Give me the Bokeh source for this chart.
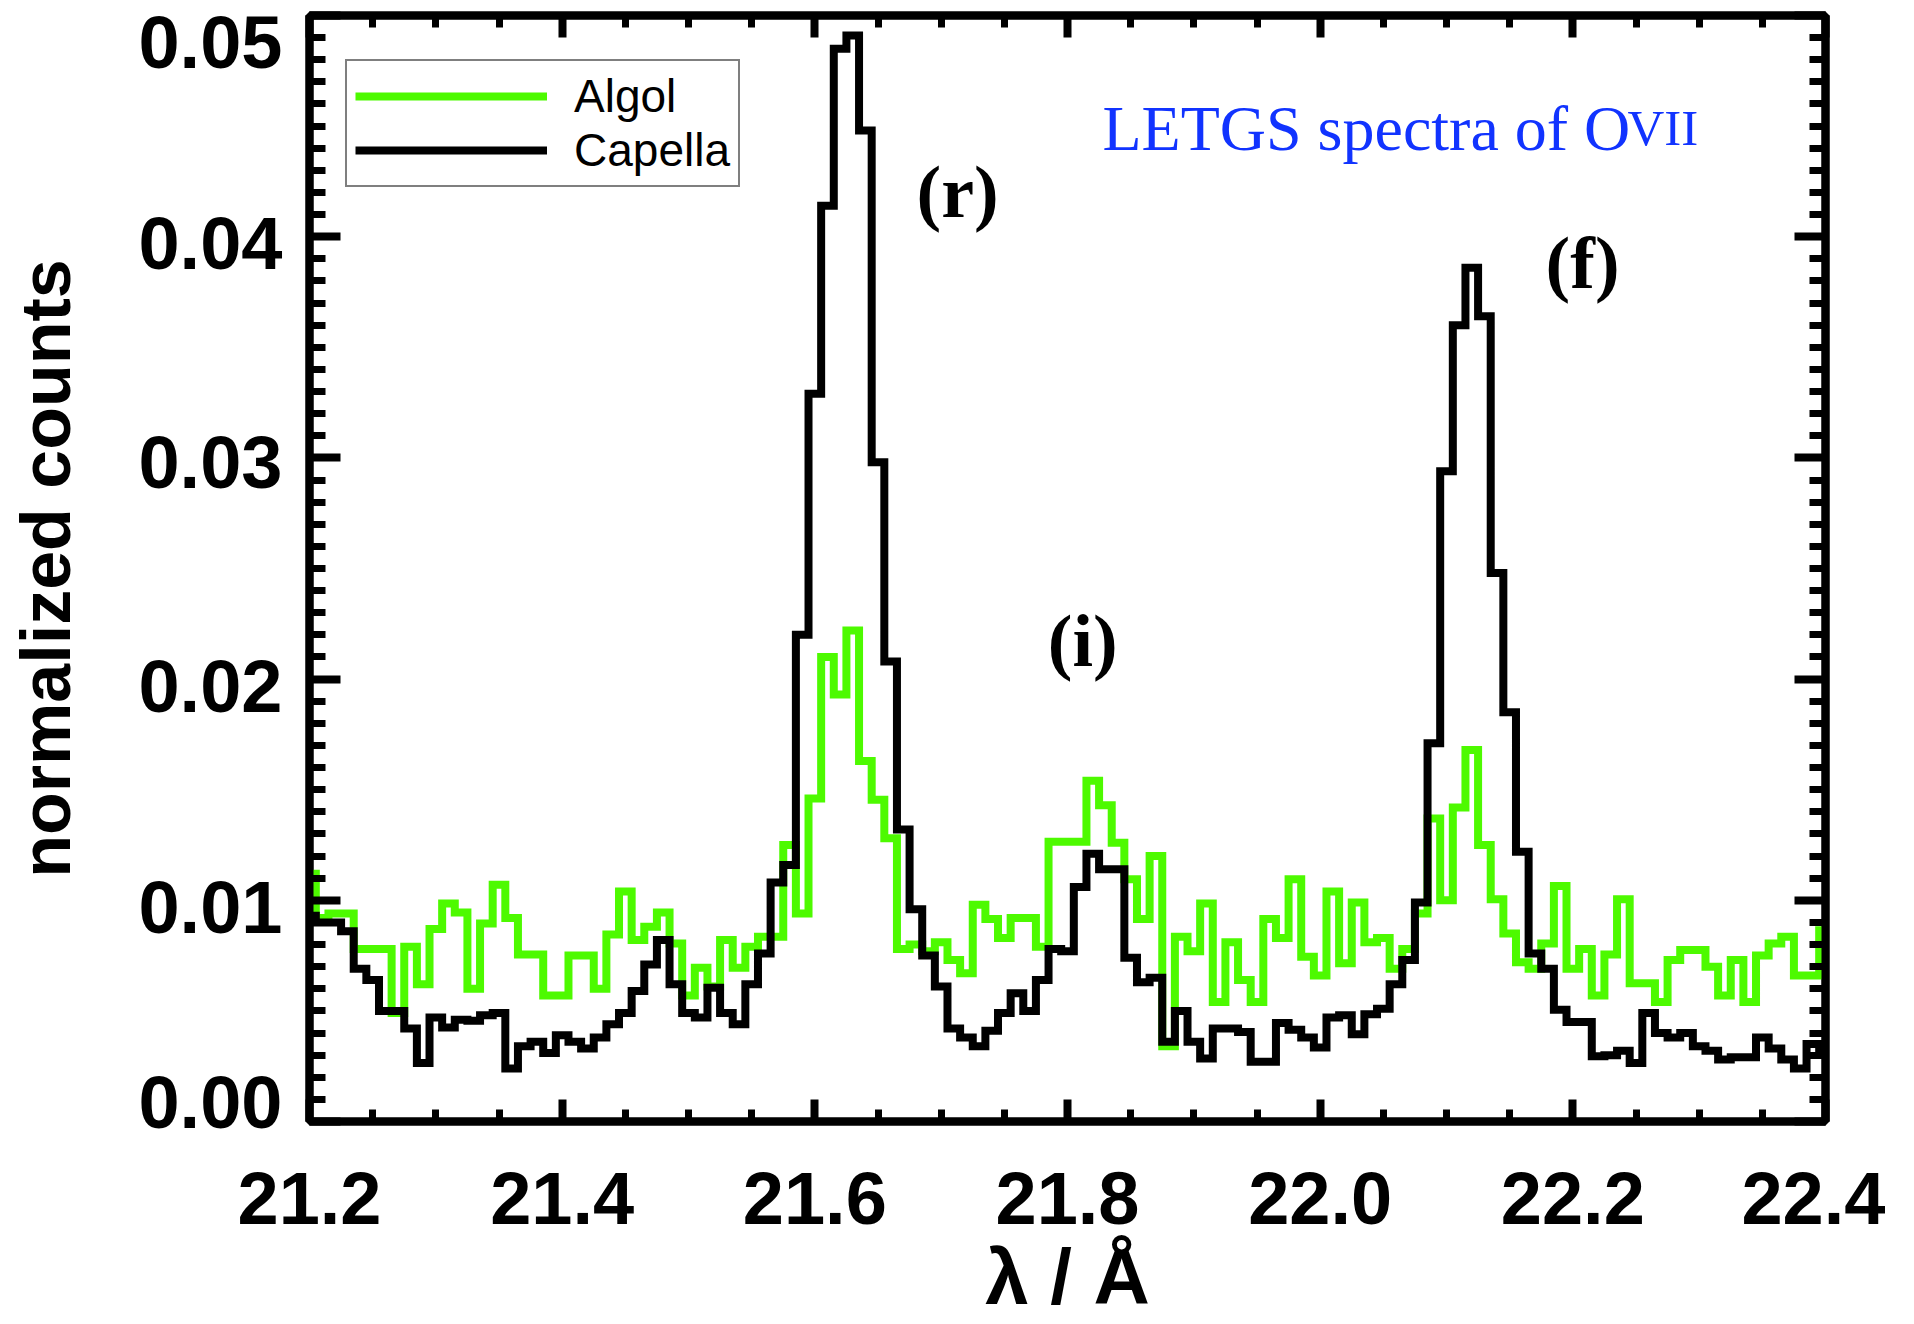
from bokeh.plotting import figure
from bokeh.models import (Range1d, LinearAxis, FixedTicker, Legend, LegendItem, Label)
from bokeh.embed import file_html
from bokeh.resources import INLINE

# ---------------- data (normalized counts) ----------------
# wavelength bins: 21.20 ... 22.40 Angstrom, 0.01 A apart
wavelength = [round(21.20 + 0.01 * i, 2) for i in range(121)]

# Algol (green), in units of 1e-3 normalized counts
algol_milli = [
    11.2, 9.2, 9.4, 9.4, 7.8, 7.8, 7.8, 4.9, 7.9, 6.2,
    8.7, 9.85, 9.45, 6.0, 8.95, 10.7, 9.2, 7.55, 7.55, 5.7,
    5.7, 7.5, 7.5, 6.0, 8.45, 10.4, 8.2, 8.8, 9.45, 8.05,
    5.7, 6.95, 6.1, 8.2, 6.95, 7.9, 8.35, 8.35, 12.5, 9.4,
    14.6, 21.0, 19.3, 22.2, 16.3, 14.55, 12.8, 7.8, 8.0, 7.7,
    8.1, 7.3, 6.7, 9.8, 9.15, 8.3, 9.2, 9.2, 7.9, 12.65,
    12.65, 12.65, 15.4, 14.3, 12.6, 10.95, 9.15, 12.0, 3.4, 8.35,
    7.7, 9.85, 5.4, 8.1, 6.4, 5.4, 9.15, 8.3, 10.95, 7.45,
    6.6, 10.4, 7.15, 9.9, 8.1, 8.3, 6.9, 7.8, 9.4, 13.7,
    10.0, 14.2, 16.8, 12.5, 10.05, 8.5, 7.2, 6.9, 8.05, 10.65,
    6.9, 7.8, 5.7, 7.55, 10.05, 6.25, 6.25, 5.4, 7.3, 7.75,
    7.75, 7.0, 5.7, 7.3, 5.4, 7.5, 8.05, 8.35, 6.6, 6.6,
    8.65,
]

# Capella (black), in units of 1e-3 normalized counts
capella_milli = [
    9.3, 9.0, 9.0, 8.6, 6.9, 6.4, 5.0, 5.0, 4.2, 2.65,
    4.7, 4.25, 4.6, 4.55, 4.8, 4.9, 2.4, 3.4, 3.6, 3.1,
    3.9, 3.6, 3.3, 3.8, 4.4, 4.9, 5.9, 7.1, 8.2, 6.2,
    4.9, 4.7, 6.05, 4.9, 4.4, 6.2, 7.6, 10.8, 11.6, 22.0,
    32.9, 41.4, 48.5, 49.1, 44.8, 29.8, 20.8, 13.2, 9.6, 7.5,
    6.1, 4.2, 3.8, 3.4, 4.1, 4.9, 5.8, 5.0, 6.4, 7.8,
    7.7, 10.6, 12.1, 11.4, 11.4, 7.4, 6.3, 6.5, 3.6, 5.0,
    3.6, 2.85, 4.2, 4.2, 4.05, 2.7, 2.7, 4.45, 4.15, 3.8,
    3.35, 4.7, 4.8, 3.95, 4.85, 5.1, 6.2, 7.3, 9.9, 17.1,
    29.4, 36.0, 38.6, 36.4, 24.8, 18.5, 12.2, 7.6, 6.9, 5.05,
    4.5, 4.5, 2.95, 3.0, 3.2, 2.65, 4.9, 4.0, 3.8, 4.0,
    3.4, 3.2, 2.8, 2.9, 2.9, 3.8, 3.3, 2.8, 2.4, 3.5,
    3.3,
]

algol = [v / 1000.0 for v in algol_milli]
capella = [v / 1000.0 for v in capella_milli]

series_names = ["Algol", "Capella"]

x_ticks = [21.2, 21.4, 21.6, 21.8, 22.0, 22.2, 22.4]
x_tick_labels = ["21.2", "21.4", "21.6", "21.8", "22.0", "22.2", "22.4"]
y_ticks = [0.0, 0.01, 0.02, 0.03, 0.04, 0.05]
y_tick_labels = ["0.00", "0.01", "0.02", "0.03", "0.04", "0.05"]

line_labels = ["(r)", "(i)", "(f)"]

# ---------------- styling ----------------
GREEN = "#4dfa00"
BLUE = "#1133ff"
SANS = "Liberation Sans"
SERIF = "Liberation Serif"

x_minor = [round(21.2 + 0.05 * i, 3) for i in range(25)]
y_minor = [round(0.001 * i, 4) for i in range(51)]
# the original shifts its y tick labels slightly off their ticks (ends pulled inward)
y_label_shift = [-0.0009, 0.0003, 0.0003, 0.0002, 0.0003, 0.0012]
y_label_pos = [round(t - s, 5) for t, s in zip(y_ticks, y_label_shift)]

p = figure(width=1885, height=1324,
           x_range=Range1d(21.2, 22.4), y_range=Range1d(0.0, 0.05),
           output_backend="svg", toolbar_location=None,
           min_border_left=309, min_border_right=60,
           min_border_top=15, min_border_bottom=203,
           background_fill_color="white", border_fill_color="white")
p.xgrid.visible = False
p.ygrid.visible = False
p.outline_line_color = "black"
p.outline_line_width = 8

xt = FixedTicker(ticks=x_ticks, minor_ticks=x_minor)
yt = FixedTicker(ticks=y_ticks, minor_ticks=y_minor)

top_axis = LinearAxis()
right_axis = LinearAxis()
p.add_layout(top_axis, "above")
p.add_layout(right_axis, "right")

bottom = p.below[0]
left = p.left[0]

for ax in (bottom, top_axis):
    ax.ticker = xt
    ax.major_tick_in = 22
    ax.minor_tick_in = 12
for ax in (left, right_axis):
    ax.ticker = yt
    ax.major_tick_in = 31
    ax.minor_tick_in = 16

for ax in (bottom, top_axis, left, right_axis):
    ax.major_tick_out = 0
    ax.minor_tick_out = 0
    ax.axis_line_width = 8
    ax.axis_line_color = "black"
    ax.major_tick_line_width = 8
    ax.minor_tick_line_width = 7
    ax.major_tick_line_color = "black"
    ax.minor_tick_line_color = "black"

# tick-only axes (labels not drawn)
for ax in (top_axis, right_axis, left):
    ax.major_label_text_color = None
    ax.major_label_text_font_size = "1px"
    ax.major_label_standoff = 0

bottom.major_label_overrides = dict(zip(x_ticks, x_tick_labels))
bottom.major_label_text_font = SANS
bottom.major_label_text_font_style = "bold"
bottom.major_label_text_font_size = "74px"
bottom.major_label_text_color = "black"
bottom.major_label_standoff = 50
bottom.axis_label = "λ / Å"
bottom.axis_label_text_font = SANS
bottom.axis_label_text_font_style = "bold"
bottom.axis_label_text_font_size = "78px"
bottom.axis_label_text_color = "black"
bottom.axis_label_standoff = 6

# y tick labels on their own (tick-less) axis
label_axis = LinearAxis(ticker=FixedTicker(ticks=y_label_pos, minor_ticks=[]),
                        major_label_overrides=dict(zip(y_label_pos, y_tick_labels)),
                        major_tick_in=0, major_tick_out=0,
                        minor_tick_in=0, minor_tick_out=0,
                        axis_line_color=None, major_tick_line_color=None,
                        minor_tick_line_color=None,
                        major_label_text_font=SANS, major_label_text_font_style="bold",
                        major_label_text_font_size="74px", major_label_text_color="black",
                        major_label_standoff=27,
                        axis_label="normalized counts", axis_label_text_font=SANS,
                        axis_label_text_font_style="bold", axis_label_text_font_size="70px",
                        axis_label_text_color="black", axis_label_standoff=50)
p.add_layout(label_axis, "left")

# ---------------- spectra ----------------
r_algol = p.step(wavelength, algol, mode="center", line_color=GREEN,
                 line_width=8, line_join="miter")
r_capella = p.step(wavelength, capella, mode="center", line_color="black",
                   line_width=8, line_join="miter")

legend = Legend(items=[LegendItem(label=series_names[0], renderers=[r_algol]),
                       LegendItem(label=series_names[1], renderers=[r_capella])],
                location=(36, 934), margin=0, padding=8, spacing=-16,
                glyph_width=192, glyph_height=36, label_height=36,
                label_standoff=27, label_text_font=SANS,
                label_text_font_size="46px", label_text_color="black",
                label_text_baseline="middle",
                border_line_color="black", border_line_width=2,
                background_fill_color="white", background_fill_alpha=1.0)
p.add_layout(legend)

# ---------------- annotations ----------------
p.add_layout(Label(x=21.8277, y=0.0449, text="LETGS spectra of O",
                   text_font=SERIF, text_font_size="64px",
                   text_color=BLUE, text_align="left", text_baseline="alphabetic"))
p.add_layout(Label(x=22.2433, y=0.0449, text="VII",
                   text_font=SERIF, text_font_size="51px",
                   text_color=BLUE, text_align="left", text_baseline="alphabetic"))

for (lx, ly), txt in zip([(21.713, 0.0420), (21.812, 0.0217), (22.2077, 0.0388)], line_labels):
    p.add_layout(Label(x=lx, y=ly, text=txt, text_font=SERIF,
                       text_font_style="bold", text_font_size="74px",
                       text_color="black", text_align="center",
                       text_baseline="alphabetic"))

open("out.html", "w").write(file_html(p, INLINE))
